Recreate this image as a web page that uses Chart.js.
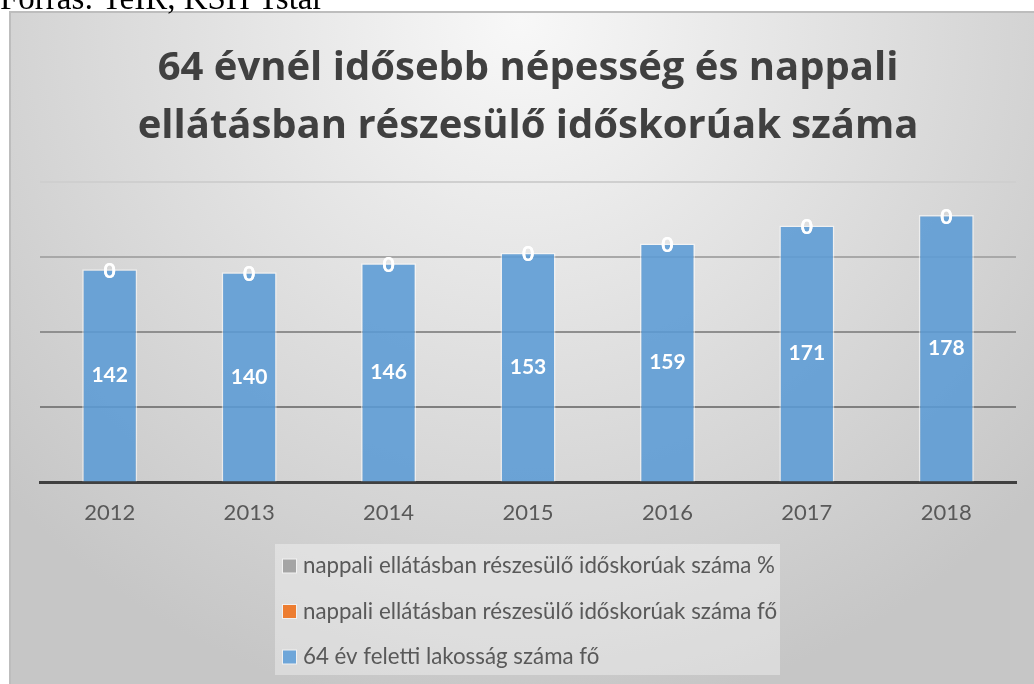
<!DOCTYPE html>
<html lang="hu">
<head>
<meta charset="utf-8">
<title>64 évnél idősebb népesség</title>
<script src="https://cdn.jsdelivr.net/npm/chart.js@4.4.1/dist/chart.umd.min.js"></script>
<style>
    body { margin: 0; background: #ffffff; }
    #chart { display: block; }
</style>
</head>
<body>
<canvas id="chart" width="1034" height="684"></canvas>
<script>
// chart data
const years = ["2012", "2013", "2014", "2015", "2016", "2017", "2018"];
const lakossagFo = [142, 140, 146, 153, 159, 171, 178];
const ellatottFo = [0, 0, 0, 0, 0, 0, 0];
const ellatottSzazalek = [0, 0, 0, 0, 0, 0, 0];
const seriesNames = [
    "64 év feletti lakosság száma fő",
    "nappali ellátásban részesülő időskorúak száma fő",
    "nappali ellátásban részesülő időskorúak száma %"
];
const seriesColors = ["rgba(91,155,213,0.88)", "#ed7d31", "#a5a5a5"];
const titleLines = ["64 évnél idősebb népesség és nappali", "ellátásban részesülő időskorúak száma"];
const sourceText = "Forrás: TeIR, KSH Tstar";

// background frame with gradient + source line above it
const framePlugin = {
    id: "frame",
    beforeDraw(chart) {
        const ctx = chart.ctx;
        ctx.save();
        ctx.fillStyle = "#ffffff";
        ctx.fillRect(0, 0, chart.width, chart.height);

        const grad = ctx.createRadialGradient(520, 20, 0, 520, 20, 700);
        grad.addColorStop(0, "#f8f8f8");
        grad.addColorStop(1, "#c6c6c6");
        ctx.fillStyle = grad;
        ctx.fillRect(9, 11, chart.width - 9, chart.height - 11);

        ctx.strokeStyle = "#bdbdbd";
        ctx.lineWidth = 2;
        ctx.beginPath();
        ctx.moveTo(10, chart.height);
        ctx.lineTo(10, 12);
        ctx.lineTo(chart.width, 12);
        ctx.stroke();

        // source text, cut off by the top of the page
        ctx.fillStyle = "#000000";
        ctx.font = "33px 'Liberation Serif'";
        ctx.textBaseline = "alphabetic";
        ctx.fillText(sourceText, 0, 9);
        ctx.restore();
    }
};

// value labels in the middle of the bars, "0" on top
const labelPlugin = {
    id: "barLabels",
    afterDatasetsDraw(chart) {
        const ctx = chart.ctx;
        ctx.save();
        ctx.fillStyle = "#ffffff";
        ctx.font = "bold 21px Lato";
        ctx.textAlign = "center";
        ctx.textBaseline = "middle";
        chart.data.datasets.forEach((ds, i) => {
            const meta = chart.getDatasetMeta(i);
            meta.data.forEach((bar, j) => {
                const value = ds.data[j];
                if (i === 0) {
                    ctx.fillText(value, bar.x, (bar.y + bar.base) / 2);
                } else {
                    ctx.fillText(value, bar.x, bar.y + 2);
                }
            });
        });
        ctx.restore();
    }
};

// legend box below the axis, series listed in reverse order
const legendPlugin = {
    id: "boxLegend",
    afterDraw(chart) {
        const ctx = chart.ctx;
        ctx.save();
        ctx.fillStyle = "rgba(255,255,255,0.35)";
        ctx.fillRect(275, 544, 505, 131);

        ctx.font = "22.3px Lato";
        ctx.textBaseline = "middle";
        const order = [2, 1, 0];
        order.forEach((dsIndex, row) => {
            const y = 566 + row * 45.5;
            ctx.fillStyle = "rgba(255,255,255,0.6)";
            ctx.fillRect(282, y - 7.5, 15, 15);
            ctx.fillStyle = chart.data.datasets[dsIndex].backgroundColor;
            ctx.fillRect(283, y - 6.5, 13, 13);
            ctx.fillStyle = "#595959";
            ctx.fillText(chart.data.datasets[dsIndex].label, 303, y);
        });
        ctx.restore();
    }
};

function gridColor(context) {
    const v = context.tick ? context.tick.value : 0;
    if (v === 0) return "rgba(0,0,0,0)";
    if (v === 50) return "#7f7f7f";
    if (v === 100) return "#8f8f8f";
    if (v === 150) return "#a8a8a8";
    return "#cfcfcf";
}

function createChart() {
    const ctx = document.getElementById("chart").getContext("2d");

    new Chart(ctx, {
        type: "bar",
        data: {
            labels: years,
            datasets: [
                {
                    label: seriesNames[0],
                    data: lakossagFo,
                    backgroundColor: seriesColors[0],
                    borderColor: "rgba(255,255,255,0.55)",
                    borderWidth: 1.5
                },
                {
                    label: seriesNames[1],
                    data: ellatottFo,
                    backgroundColor: seriesColors[1],
                    borderWidth: 0
                },
                {
                    label: seriesNames[2],
                    data: ellatottSzazalek,
                    backgroundColor: seriesColors[2],
                    borderWidth: 0
                }
            ]
        },
        options: {
            responsive: false,
            animation: false,
            layout: {
                padding: { left: 40, right: 18, top: 0, bottom: 141 }
            },
            datasets: {
                bar: { categoryPercentage: 1, barPercentage: 0.395 }
            },
            scales: {
                x: {
                    stacked: true,
                    grid: { display: false, drawTicks: false },
                    border: { display: true, color: "#404040", width: 3 },
                    ticks: {
                        color: "#595959",
                        font: { family: "Lato", size: 22 },
                        padding: 17
                    }
                },
                y: {
                    stacked: true,
                    min: 0,
                    max: 200,
                    ticks: { display: false, stepSize: 50 },
                    grid: { color: gridColor, lineWidth: 2, drawTicks: false },
                    border: { display: false }
                }
            },
            plugins: {
                legend: { display: false },
                tooltip: { enabled: false },
                title: {
                    display: true,
                    text: titleLines,
                    color: "#404040",
                    font: { family: "Open Sans", size: 40, weight: "bold", lineHeight: 1.45 },
                    padding: { top: 40, bottom: 26 }
                }
            }
        },
        plugins: [framePlugin, labelPlugin, legendPlugin]
    });
}

document.addEventListener("DOMContentLoaded", createChart);
</script>
</body>
</html>
